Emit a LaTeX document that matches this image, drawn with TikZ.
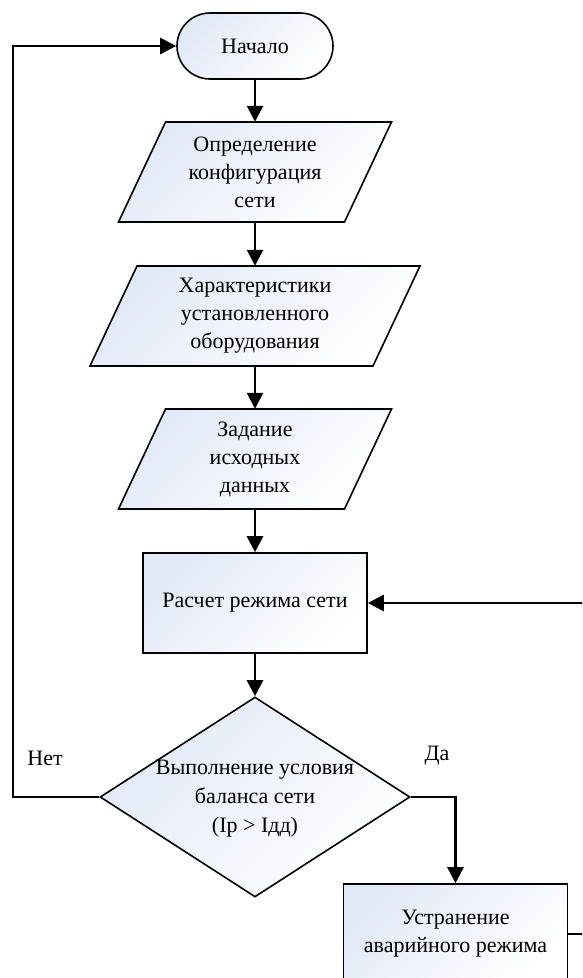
\documentclass[tikz,border=0pt]{standalone}
\usepackage{fontspec}
\setmainfont{Liberation Serif}
\usetikzlibrary{arrows.meta}
\usetikzlibrary{shapes.geometric}

\definecolor{fillblue}{RGB}{226,233,247}

\tikzset{
  skin/.style={draw, line width=1.6pt, top color=fillblue, bottom color=white, shading angle=45},
  block/.style={skin, align=center, inner sep=0pt, font=\fontsize{22}{28}\selectfont},
  term/.style={block, rectangle, rounded corners=33pt, minimum width=156pt, minimum height=66pt},
  iotext/.style={align=center, inner sep=0pt, font=\fontsize{22}{28}\selectfont, minimum height=100pt},
  proc/.style={block, rectangle, minimum width=224pt, minimum height=100pt},
  cond/.style={block, diamond, minimum width=310pt, minimum height=200pt},
  conn/.style={line width=2.6pt, -{Triangle[length=16pt,width=16pt]}},
  lbl/.style={font=\fontsize{22}{29}\selectfont, align=center}
}

% parallelogram: name, x, y, half width, text
\newcommand{\iobox}[5]{%
  \path[skin] ({#2-#4+23.5},{#3-50}) -- ({#2+#4+23.5},{#3-50})
    -- ({#2+#4-23.5},{#3+50}) -- ({#2-#4-23.5},{#3+50}) -- cycle;
  \node[iotext, minimum width=2*#4] (#1) at (#2,#3) {#5};
}

\begin{document}
\begin{tikzpicture}[x=1pt, y=-1pt]
\useasboundingbox (0,0) rectangle (582,978);
\clip (0,0) rectangle (582,978);

\node[term] (start) at (255,46) {Начало};
\iobox{config}{255}{172}{113}{Определение\\конфигурация\\сети}
\iobox{equip}{255}{316}{141.5}{Характеристики\\установленного\\оборудования}
\iobox{input}{255}{459}{113}{Задание\\исходных\\данных}
\node[proc] (calc) at (255,603) {Расчет режима сети};
\node[cond] (check) at (255,797) {};
\node[lbl] (checktxt) at (255,799) {Выполнение условия\\баланса сети\\(Iр > Iдд)};
\node[proc] (fix) at (455.5,934) {Устранение\\аварийного режима};

\node[lbl] (no) at (45,758) {Нет};
\node[lbl] (yes) at (437,756) {Да};

\coordinate (loopL) at (13,797);
\coordinate (loopR) at (600,760);

\draw[conn] (start) -- (config);
\draw[conn] (config) -- (equip);
\draw[conn] (equip) -- (input);
\draw[conn] (input) -- (calc);
\draw[conn] (calc) -- (check);
\draw[conn] (check.west) -- (loopL) |- (start.west);
\draw[conn] (check.east) -| (fix.north);
\draw[conn] (fix.east) -| (loopR) |- (calc.east);

\end{tikzpicture}
\end{document}
